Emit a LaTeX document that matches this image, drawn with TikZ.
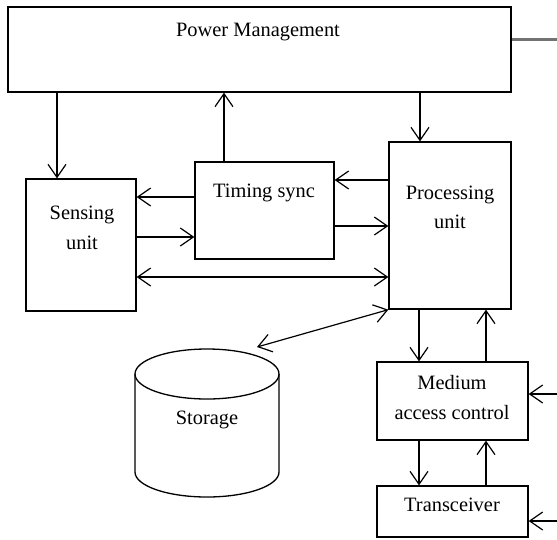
\documentclass[tikz,border=0pt]{standalone}
\usepackage{fontspec}
\setmainfont{Liberation Serif}
\usetikzlibrary{arrows.meta}
\begin{document}
\begin{tikzpicture}[x=1pt,y=-1pt,
  box/.style={draw, line width=1.3pt, inner sep=0pt, fill=white},
  lbl/.style={inner sep=0pt, align=center, font=\fontsize{20.4}{29.5}\selectfont},
  arr/.style={line width=1.2pt, -{Straight Barb[length=13pt,width=18pt,line width=1.2pt]}},
  darr/.style={line width=1.2pt, {Straight Barb[length=13pt,width=18pt,line width=1.2pt]}-{Straight Barb[length=13pt,width=18pt,line width=1.2pt]}},
  ]
\useasboundingbox (0,0) rectangle (557,539);
% boxes
\node[box, minimum width=503pt, minimum height=85pt] (pm) at (259.5,49.5) {};
\node[box, minimum width=110pt, minimum height=132pt] (sens) at (81,245) {};
\node[box, minimum width=139pt, minimum height=97pt] (tim) at (264.5,210.5) {};
\node[box, minimum width=122pt, minimum height=167pt] (proc) at (450,225.5) {};
\node[box, minimum width=151pt, minimum height=78pt] (mac) at (452.5,401) {};
\node[box, minimum width=151pt, minimum height=51pt] (trx) at (452.5,511.5) {};
% storage cylinder
\draw[line width=1.3pt] (207,374) ellipse [x radius=72pt, y radius=25pt];
\draw[line width=1.3pt] (135,374) -- (135,472) arc[start angle=180, end angle=360, x radius=72pt, y radius=25pt] -- (279,374);
\coordinate (stor) at (257,347);
% labels
\node[lbl] (pmt) at (258,32) {Power Management};
\node[lbl] (timt) at (264,193) {Timing sync};
\node[lbl] (senst) at (82,228) {Sensing\\unit};
\node[lbl] (proct) at (450,207.5) {Processing\\unit};
\node[lbl] (mact) at (452,397.5) {Medium\\access control};
\node[lbl] (trxt) at (452,505) {Transceiver};
\node[lbl] (stort) at (207,420) {Storage};
% external points
\coordinate (pmout) at (557,39);
\coordinate (macin) at (557,394);
\coordinate (trxin) at (557,521);
% connectors
\draw[arr] ([xshift=-202.5pt]pm.south) -- ([xshift=-24pt]sens.north);
\draw[arr] ([xshift=-40.5pt]tim.north) -- ([xshift=-35.5pt]pm.south);
\draw[arr] ([xshift=160.5pt]pm.south) -- ([xshift=-30pt]proc.north);
\draw[arr] ([yshift=45.5pt]proc.west) -- ([yshift=30.5pt]tim.east);
\draw[arr] ([yshift=-15.5pt]tim.east) -- ([yshift=-0.5pt]proc.west);
\draw[arr] ([yshift=13.5pt]tim.west) -- ([yshift=48pt]sens.east);
\draw[arr] ([yshift=8pt]sens.east) -- ([yshift=-26.5pt]tim.west);
\draw[darr] ([yshift=-32pt]sens.east) -- ([yshift=-51.5pt]proc.west);
\draw[darr] (proc.south west) -- (stor);
\draw[arr] ([xshift=-31pt]proc.south) -- ([xshift=-33.5pt]mac.north);
\draw[arr] ([xshift=33.5pt]mac.north) -- ([xshift=36pt]proc.south);
\draw[arr] ([xshift=-33.5pt]mac.south) -- ([xshift=-33.5pt]trx.north);
\draw[arr] ([xshift=33.5pt]trx.north) -- ([xshift=33.5pt]mac.south);
\draw[arr] (macin) -- ([yshift=7pt]mac.east);
\draw[arr] (trxin) -- ([yshift=-9.5pt]trx.east);
\draw[line width=3pt, color=black!55] ([yshift=10.5pt]pm.east) -- (pmout);
\end{tikzpicture}
\end{document}
